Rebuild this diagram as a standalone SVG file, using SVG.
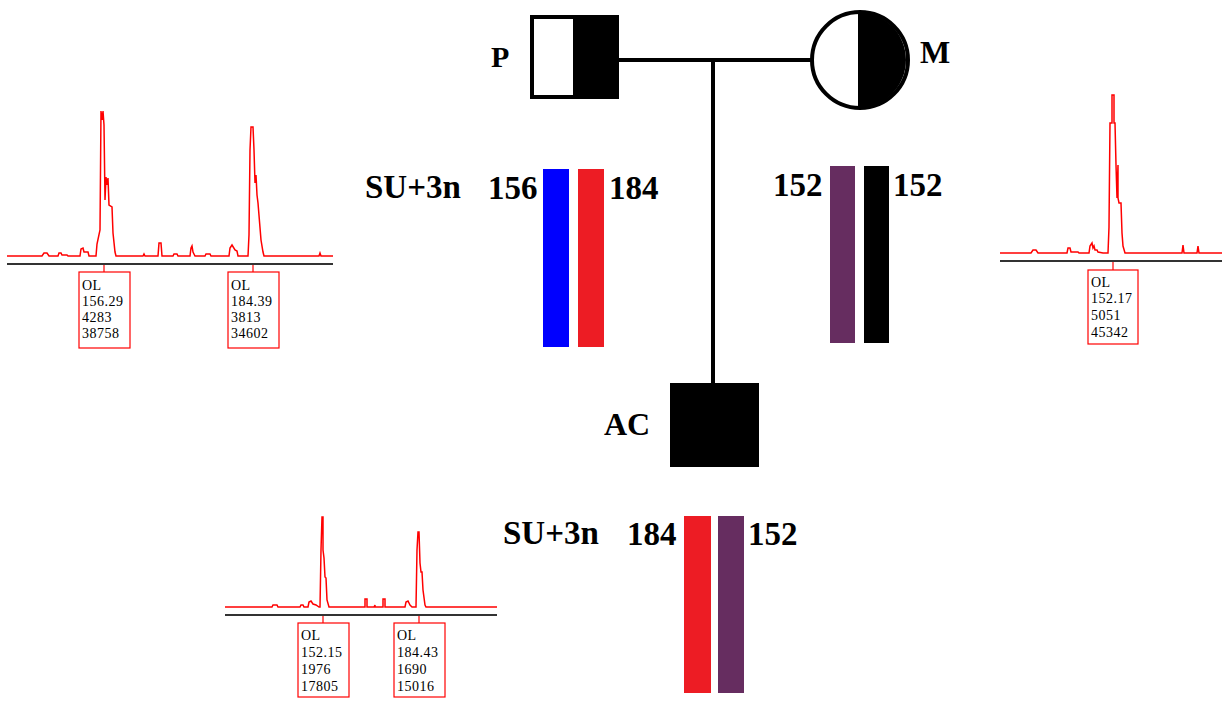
<svg xmlns="http://www.w3.org/2000/svg" width="1225" height="701" viewBox="0 0 1225 701">
<style>
.lbl{font-family:"Liberation Serif","Times New Roman",serif;font-weight:bold;fill:#000}
.big{font-size:33px}
.trace{fill:none;stroke:#ff0000;stroke-width:1.5;stroke-linejoin:miter}
.axis{stroke:#333;stroke-width:2}
.tick{stroke:#ff0000;stroke-width:1.2}
.box{fill:#fff;stroke:#ff0000;stroke-width:1.2}
.bt{font-family:"Liberation Serif","Times New Roman",serif;font-size:14px;letter-spacing:0.5px;fill:#000}
.line{stroke:#000;stroke-width:4;fill:none}
</style>
<rect width="1225" height="701" fill="#fff"/>
<g id="connectors">
<line class="line" x1="617" y1="60" x2="813" y2="60"/>
<line class="line" x1="713" y1="60" x2="713" y2="384"/>
</g>
<g id="P">
<rect x="532" y="17" width="85" height="80" fill="#fff" stroke="#000" stroke-width="4"/>
<rect x="573" y="15" width="46" height="84" fill="#000"/>
<text class="lbl" x="491" y="67" font-size="30">P</text>
</g>
<g id="M">
<circle cx="860" cy="60" r="48" fill="#fff" stroke="#000" stroke-width="4"/>
<path d="M858,12 A48,48 0 0 1 858,108 Z" fill="#000"/>
<text class="lbl" x="920" y="63" font-size="32">M</text>
</g>
<g id="AC">
<rect x="670" y="383" width="89" height="84" fill="#000"/>
<text class="lbl" x="604" y="435" font-size="32">AC</text>
</g>
<g id="P-alleles">
<text class="lbl big" x="365" y="198">SU+3n</text>
<text class="lbl big" x="488" y="199">156</text>
<rect x="543" y="169" width="26" height="178" fill="#0000ff"/>
<rect x="578" y="169" width="26" height="178" fill="#ed1c24"/>
<text class="lbl big" x="609" y="199">184</text>
</g>
<g id="M-alleles">
<text class="lbl big" x="773" y="196">152</text>
<rect x="830" y="166" width="25" height="177" fill="#662d60"/>
<rect x="864" y="166" width="25" height="177" fill="#000"/>
<text class="lbl big" x="893" y="196">152</text>
</g>
<g id="AC-alleles">
<text class="lbl big" x="503" y="544">SU+3n</text>
<text class="lbl big" x="627" y="545">184</text>
<rect x="684" y="516" width="27" height="177" fill="#ed1c24"/>
<rect x="718" y="516" width="26" height="177" fill="#662d60"/>
<text class="lbl big" x="748" y="545">152</text>
</g>
<g id="epg-P">
<line class="axis" x1="7" y1="264" x2="333" y2="264"/>
<path class="trace" d="M7,256 L42,256 L44,253 L47,253 L49,256 L58,256 L59,253 L61,253 L62,255 L67,255 L68,256 L80,256 L81,249 L83,248 L84,252 L88,252 L89,256 L96,256 L97,244 L100,230 L101,111 L102,120 L103,111 L104,125 L105,200 L106,177 L107,185 L108,178 L109,205 L112,207 L113,233 L115,252 L116,256 L143,256 L144,254 L145,256 L158,256 L159,243 L161,243 L162,256 L173,256 L174,254 L177,254 L178,256 L190,256 L191,248 L192,246 L193,252 L195,256 L205,256 L206,254 L210,254 L211,256 L229,256 L230,248 L232,245 L235,250 L237,251 L238,256 L248,256 L249,235 L250,150 L251,127 L253,127 L254,150 L255,183 L256,175 L257,195 L258,203 L261,240 L263,252 L264,256 L319,256 L320,253 L321,256 L333,256"/>
<line class="tick" x1="104" y1="265" x2="104" y2="272"/>
<line class="tick" x1="253" y1="265" x2="253" y2="272"/>
<rect class="box" x="79" y="272" width="51" height="76"/>
<text class="bt" x="82" y="290">OL</text>
<text class="bt" x="82" y="306">156.29</text>
<text class="bt" x="82" y="322">4283</text>
<text class="bt" x="82" y="338">38758</text>
<rect class="box" x="228" y="272" width="51" height="76"/>
<text class="bt" x="231" y="290">OL</text>
<text class="bt" x="231" y="306">184.39</text>
<text class="bt" x="231" y="322">3813</text>
<text class="bt" x="231" y="338">34602</text>
</g>
<g id="epg-M">
<line class="axis" x1="1000" y1="261" x2="1222" y2="261"/>
<path class="trace" d="M1000,253 L1031,253 L1033,250 L1036,250 L1038,253 L1067,253 L1068,248 L1070,248 L1071,252 L1078,252 L1079,253 L1089,253 L1090,246 L1092,243 L1093,248 L1094,246 L1095,250 L1097,250 L1098,252 L1103,253 L1108,253 L1109,227 L1110,123 L1112,123 L1112,95 L1114,95 L1114,123 L1115,123 L1116,165 L1117,198 L1118,165 L1118,198 L1119,203 L1121,203 L1122,233 L1123,246 L1125,253 L1182,253 L1183,245 L1184,253 L1197,253 L1198,246 L1199,253 L1222,253"/>
<line class="tick" x1="1113" y1="262" x2="1113" y2="270"/>
<rect class="box" x="1088" y="270" width="50" height="74"/>
<text class="bt" x="1091" y="287">OL</text>
<text class="bt" x="1091" y="303">152.17</text>
<text class="bt" x="1091" y="320">5051</text>
<text class="bt" x="1091" y="337">45342</text>
</g>
<g id="epg-AC">
<line class="axis" x1="225" y1="615" x2="497" y2="615"/>
<path class="trace" d="M225,607 L272,607 L273,605 L277,605 L278,607 L300,607 L301,605 L303,605 L304,607 L308,607 L309,602 L311,601 L313,604 L316,605 L319,607 L320,607 L321,550 L322,517 L323,517 L323,550 L324,558 L325,577 L326,578 L327,600 L329,607 L365,607 L365,599 L367,599 L367,607 L374,607 L375,605 L375,607 L383,607 L383,599 L385,599 L385,607 L405,607 L406,602 L408,601 L410,605 L412,607 L416,607 L417,550 L418,532 L419,532 L420,563 L421,572 L422,572 L423,590 L425,605 L426,607 L497,607"/>
<line class="tick" x1="323" y1="616" x2="323" y2="623"/>
<line class="tick" x1="419" y1="616" x2="419" y2="623"/>
<rect class="box" x="298" y="623" width="51" height="74"/>
<text class="bt" x="301" y="640">OL</text>
<text class="bt" x="301" y="657">152.15</text>
<text class="bt" x="301" y="674">1976</text>
<text class="bt" x="301" y="691">17805</text>
<rect class="box" x="394" y="623" width="51" height="74"/>
<text class="bt" x="397" y="640">OL</text>
<text class="bt" x="397" y="657">184.43</text>
<text class="bt" x="397" y="674">1690</text>
<text class="bt" x="397" y="691">15016</text>
</g>
</svg>
